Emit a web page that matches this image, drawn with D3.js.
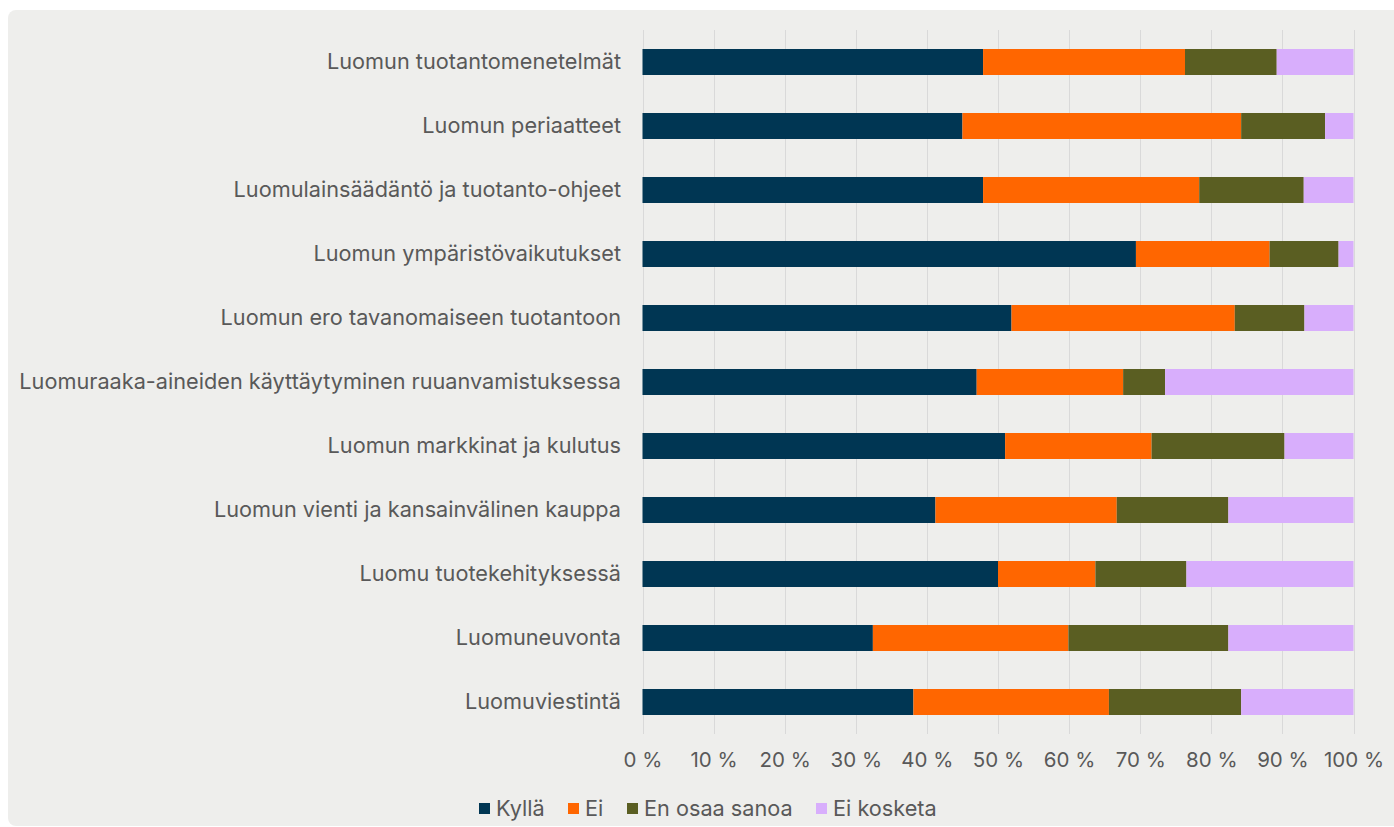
<!DOCTYPE html>
<html>
<head>
<meta charset="utf-8">
<script src="https://cdn.jsdelivr.net/npm/d3@7"></script>
<style>
  body { margin: 0; background: #ffffff; }
  svg { display: block; }
  text { font-family: Inter, "Noto Sans", sans-serif; fill: #595959; }
</style>
</head>
<body>
<svg></svg>
<script>
// 100% stacked bars, values in percent
var categories = [
    'Luomun tuotantomenetelmät',
    'Luomun periaatteet',
    'Luomulainsäädäntö ja tuotanto-ohjeet',
    'Luomun ympäristövaikutukset',
    'Luomun ero tavanomaiseen tuotantoon',
    'Luomuraaka-aineiden käyttäytyminen ruuanvamistuksessa',
    'Luomun markkinat ja kulutus',
    'Luomun vienti ja kansainvälinen kauppa',
    'Luomu tuotekehityksessä',
    'Luomuneuvonta',
    'Luomuviestintä'
];
var seriesNames = ['Kyllä', 'Ei', 'En osaa sanoa', 'Ei kosketa'];
var kylla      = [47.9, 45.0, 47.9, 69.4, 51.9, 47.0, 51.0, 41.2, 50.0, 32.4, 38.1];
var ei         = [28.4, 39.2, 30.4, 18.8, 31.4, 20.6, 20.6, 25.5, 13.7, 27.5, 27.5];
var enOsaa     = [12.9, 11.8, 14.7,  9.7,  9.8,  5.9, 18.7, 15.7, 12.8, 22.5, 18.6];
var eiKosketa  = [10.8,  4.0,  7.0,  2.1,  6.9, 26.5,  9.7, 17.6, 23.5, 17.6, 15.8];
var tickValues = [0, 10, 20, 30, 40, 50, 60, 70, 80, 90, 100];
var colors = ['#003653', '#ff6600', '#5a5e22', '#d8aefc'];

var width = 1394, height = 827;
var margin = {top: 30, right: 40, bottom: 93, left: 642.5};

var svg = d3.select('svg')
    .attr('width', width)
    .attr('height', height);

// grey panel
svg.append('rect')
    .attr('x', 8).attr('y', 10)
    .attr('width', width - 8 + 10).attr('height', height - 11)
    .attr('rx', 8)
    .attr('fill', '#eeeeec');

var table = categories.map(function(c, i) {
    return {cat: c, 'Kyllä': kylla[i], 'Ei': ei[i], 'En osaa sanoa': enOsaa[i], 'Ei kosketa': eiKosketa[i]};
});
var stacked = d3.stack().keys(seriesNames)(table);

var xScale = d3.scaleLinear()
    .domain([0, 100])
    .range([margin.left, 1353.5]);

var yScale = d3.scaleBand()
    .domain(categories)
    .range([margin.top, height - margin.bottom])
    .paddingInner(0.594)
    .paddingOuter(0.297);

// vertical gridlines
svg.append('g')
    .selectAll('line')
    .data(tickValues)
    .enter()
    .append('line')
    .attr('x1', function(d) { return Math.round(xScale(d)) + 0.5; })
    .attr('x2', function(d) { return Math.round(xScale(d)) + 0.5; })
    .attr('y1', margin.top)
    .attr('y2', height - margin.bottom)
    .attr('stroke', '#d9d9d9')
    .attr('stroke-width', 1);

// bars
svg.append('g')
    .selectAll('g')
    .data(stacked)
    .enter()
    .append('g')
    .attr('fill', function(d, i) { return colors[i]; })
    .selectAll('rect')
    .data(function(d) { return d; })
    .enter()
    .append('rect')
    .attr('x', function(d) { return xScale(d[0]); })
    .attr('width', function(d) { return xScale(d[1]) - xScale(d[0]); })
    .attr('y', function(d) { return yScale(d.data.cat); })
    .attr('height', yScale.bandwidth());

// x axis labels
var xAxis = d3.axisBottom(xScale)
    .tickValues(tickValues)
    .tickSize(0)
    .tickPadding(0)
    .tickFormat(function(d) { return d + ' %'; });

var gx = svg.append('g')
    .attr('transform', 'translate(0,' + 752 + ')')
    .call(xAxis);
gx.select('.domain').remove();
gx.selectAll('text')
    .attr('font-size', 20.5)
    .style('font-family', 'Inter, "Noto Sans", sans-serif')
    .attr('fill', '#595959');

// category labels
var yAxis = d3.axisLeft(yScale).tickSize(0).tickPadding(0);
var gy = svg.append('g')
    .attr('transform', 'translate(621,0)')
    .call(yAxis);
gy.select('.domain').remove();
gy.selectAll('text')
    .attr('font-size', 21.7)
    .style('font-family', 'Inter, "Noto Sans", sans-serif')
    .attr('fill', '#595959');

// legend
var legendX = [479, 568, 627, 816];
var legend = svg.append('g')
    .selectAll('g')
    .data(seriesNames)
    .enter()
    .append('g')
    .attr('transform', function(d, i) { return 'translate(' + legendX[i] + ',803)'; });

legend.append('rect')
    .attr('width', 11)
    .attr('height', 11)
    .attr('fill', function(d, i) { return colors[i]; });

legend.append('text')
    .attr('x', 17)
    .attr('y', 5.5)
    .attr('dy', '0.35em')
    .attr('font-size', 21.7)
    .text(function(d) { return d; });
</script>
</body>
</html>
